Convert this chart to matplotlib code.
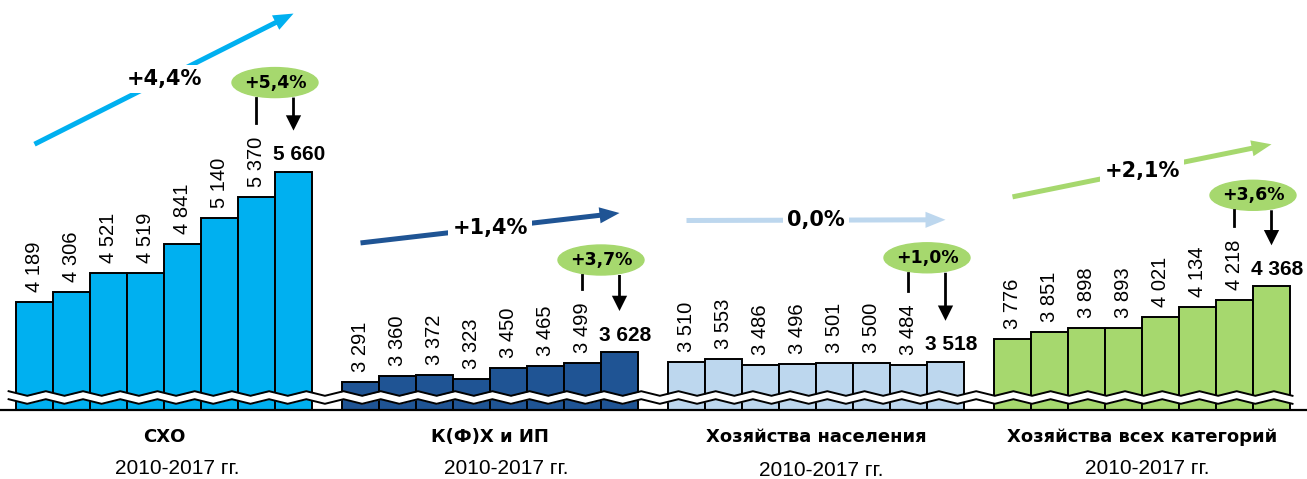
import matplotlib.pyplot as plt
import numpy as np
from matplotlib.patches import Ellipse

plt.rcParams['font.family'] = ['Liberation Sans', 'DejaVu Sans']
WIDE = ['DejaVu Sans']   # для растянутых подписей

# данные 2010-2017
categories = ['СХО', 'К(Ф)Х и ИП', 'Хозяйства населения', 'Хозяйства всех категорий']
period_label = '2010-2017 гг.'
sxo = [4189, 4306, 4521, 4519, 4841, 5140, 5370, 5660]
kfh = [3291, 3360, 3372, 3323, 3450, 3465, 3499, 3628]
naselenie = [3510, 3553, 3486, 3496, 3501, 3500, 3484, 3518]
vse = [3776, 3851, 3898, 3893, 4021, 4134, 4218, 4368]
avg_growth = ['+4,4%', '+1,4%', '0,0%', '+2,1%']
last_growth = ['+5,4%', '+3,7%', '+1,0%', '+3,6%']

series = [sxo, kfh, naselenie, vse]
colors = ['#00B0F0', '#1F5494', '#BDD7EE', '#A6D86E']
arrow_colors = ['#00B0F0', '#1F5494', '#BDD7EE', '#A6D86E']
ell_color = '#A6D86E'

# layout (pixels)
BASE = 2975
K = 0.0888          # px per unit
GAP = 326 / 37      # group step in bar widths
arrow_off = [158, 139, 142, 142]
ell_off = [89, 92, 104, 91]
year_dx = [13, 16, 5, 5]
year_dy = [0, 0, 3, 0]


def up(v, px):
    return v + px / K


fig = plt.figure(figsize=(13.07, 4.79), dpi=100)
ax = fig.add_axes([0, 0, 1, 1])
ax.set_xlim(-34.5 / 37, (1307 - 34.5) / 37)
ax.set_ylim(BASE - 69 / K, BASE + 410 / K)
ax.axis('off')


def fmt(v):
    return f'{v:,}'.replace(',', ' ')


for g, vals in enumerate(series):
    xs = g * GAP + np.arange(len(vals))
    ax.bar(xs, np.array(vals) - BASE, bottom=BASE, width=1.0, color=colors[g],
           edgecolor='black', linewidth=1.4, zorder=2)
    for x, v in zip(xs[:-1], vals[:-1]):
        ax.annotate(fmt(v), (x, v), xytext=(0, 10), textcoords='offset pixels',
                    rotation=90, ha='center', va='bottom', fontsize=14.5)
    ax.annotate(fmt(vals[-1]), (xs[-1], vals[-1]), xytext=(6, 17),
                textcoords='offset pixels', ha='center', va='center',
                fontsize=15, fontweight='bold')

    # тренд
    y0 = up(vals[0], arrow_off[g])
    y1 = up(vals[-1], arrow_off[g])
    ax.annotate('', xy=(xs[-1], y1), xytext=(xs[0], y0),
                arrowprops=dict(arrowstyle='simple,head_length=0.72,head_width=0.58,tail_width=0.18',
                                mutation_scale=20, color=arrow_colors[g], lw=0,
                                shrinkA=0, shrinkB=0), zorder=3)
    ax.text((xs[0] + xs[-1]) / 2, (y0 + y1) / 2, avg_growth[g], ha='center', va='center',
            fontsize=15, fontweight='bold', family=WIDE, zorder=4,
            bbox=dict(boxstyle='square,pad=0.2', fc='white', ec='none'))

    # прирост за последний год
    ex = (xs[6] + xs[7]) / 2
    ey = up(vals[-1], ell_off[g])
    ax.add_patch(Ellipse((ex, ey), 86 / 37, 30 / K, color=ell_color, zorder=3))
    ax.text(ex, ey, last_growth[g], ha='center', va='center', fontsize=12.5,
            fontweight='bold', family=WIDE, zorder=4)
    ebot = up(vals[-1], ell_off[g] - 15)
    ax.plot([xs[6], xs[6]], [ebot, up(vals[6], 74)], color='black', lw=2, zorder=3)
    ax.annotate('', xy=(xs[7], up(vals[7], 41)), xytext=(xs[7], ebot),
                arrowprops=dict(arrowstyle='simple,head_length=0.55,head_width=0.55,tail_width=0.1',
                                mutation_scale=20, color='black', lw=0,
                                shrinkA=0, shrinkB=0), zorder=3)

    cx = g * GAP + 3.5
    ax.text(cx, BASE - 27 / K, categories[g], ha='center', va='center',
            fontsize=13, fontweight='bold', family=WIDE)
    ax.text(cx + year_dx[g] / 37, BASE - (58 + year_dy[g]) / K, period_label,
            ha='center', va='center', fontsize=15)

# разрыв оси
zx = np.linspace(-0.7, 34.0, 70)
zz = np.where(np.arange(len(zx)) % 2 == 0, 2.3, -2.3)
top_line = BASE + (16.5 + zz) / K
bot_line = BASE + (8.5 + zz) / K
ax.fill_between(zx, bot_line, top_line, color='white', zorder=5, lw=0)
ax.plot(zx, top_line, color='black', lw=1.4, zorder=6)
ax.plot(zx, bot_line, color='black', lw=1.4, zorder=6)
ax.axhline(BASE, color='black', lw=1.6, zorder=6)

fig.savefig('out.png', dpi=100)
